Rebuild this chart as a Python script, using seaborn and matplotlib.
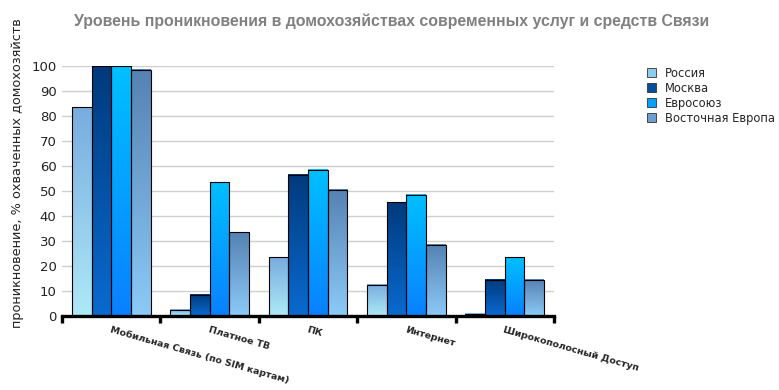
import numpy as np
import pandas as pd
import matplotlib
matplotlib.use("Agg")
import matplotlib.pyplot as plt
import seaborn as sns
from matplotlib.colors import LinearSegmentedColormap
from matplotlib.patches import Patch

categories = ["Мобильная Связь (по SIM картам)", "Платное ТВ", "ПК", "Интернет", "Широкополосный Доступ"]
series = ["Россия", "Москва", "Евросоюз", "Восточная Европа"]
russia = [83.5, 2.5, 23.5, 12.5, 1.0]
moscow = [100, 8.5, 56.5, 45.5, 14.5]
eu = [100, 53.5, 58.5, 48.5, 23.5]
east_eu = [98.5, 33.5, 50.5, 28.5, 14.5]
yticks = list(range(0, 101, 10))

values = [russia, moscow, eu, east_eu]
rows = []
for s, vals in zip(series, values):
    for c, v in zip(categories, vals):
        rows.append({"cat": c, "series": s, "val": v})
df = pd.DataFrame(rows)

# (bottom colour, top colour) for each series gradient
grads = [("#aee9f7", "#78acdf"),
         ("#0a6ad0", "#003a7c"),
         ("#0a80ff", "#00c0ff"),
         ("#8ccaf8", "#5582b2")]
legend_cols = ["#8ccdee", "#00509e", "#00a0ff", "#6e9fd0"]

sns.set_theme(style="white")
plt.rcParams["font.family"] = ["DejaVu Sans"]

fig = plt.figure(figsize=(7.79, 3.90), dpi=100)
ax = fig.add_axes([62 / 779, 74 / 390, 492 / 779, 250 / 390])

sns.barplot(data=df, x="cat", y="val", hue="series", order=categories,
            hue_order=series, palette=legend_cols, width=0.8, ax=ax,
            edgecolor="black", linewidth=0.8, legend=False, zorder=3)

grad = np.linspace(0, 1, 256).reshape(-1, 1)
for cont, (bot, top) in zip(ax.containers, grads):
    cmap = LinearSegmentedColormap.from_list("g", [bot, top])
    for bar in cont:
        x0, y0 = bar.get_x(), bar.get_y()
        w, h = bar.get_width(), bar.get_height()
        ax.imshow(grad, extent=[x0, x0 + w, y0, y0 + h], origin="lower",
                  cmap=cmap, aspect="auto", zorder=2.5, interpolation="bilinear")
        bar.set_facecolor("none")

ax.set_xlim(-0.5, len(categories) - 0.5)
ax.set_ylim(0, 100)
ax.set_yticks(yticks)
ax.set_yticklabels([str(t) for t in yticks], fontsize=9.5, color="#222222")
ax.yaxis.grid(True, color="#cfcfcf", linewidth=1, zorder=0)
ax.set_axisbelow(True)
for s in ["left", "right", "top"]:
    ax.spines[s].set_visible(False)
ax.spines["bottom"].set_linewidth(2.4)
ax.spines["bottom"].set_color("black")
ax.tick_params(axis="y", length=0, pad=4)

ax.set_xticks(range(len(categories)))
ax.set_xticklabels(categories, fontsize=6.8, fontweight="bold", rotation=-16,
                   ha="left", va="top", rotation_mode="anchor")
ax.set_xticks(np.arange(-0.5, len(categories), 1.0), minor=True)
ax.tick_params(axis="x", which="both", bottom=True)
ax.tick_params(axis="x", which="major", length=0, pad=7)
ax.tick_params(axis="x", which="minor", length=5, width=2.4, color="black", direction="out")
ax.set_xlabel("")
ax.set_ylabel("")

fig.text(18 / 779, 1 - 173 / 390, "проникновение, % охваченных домохозяйств",
         rotation=90, ha="center", va="center", fontsize=9.3, color="#222222")

fig.text(392 / 779, 1 - 21 / 390,
         "Уровень проникновения в домохозяйствах современных услуг и средств Связи",
         ha="center", va="center", fontsize=11.4, fontweight="bold",
         color="#808080", family="Liberation Sans")

handles = [Patch(facecolor=c, edgecolor="#333333", linewidth=0.6) for c in legend_cols]
fig.legend(handles, series, loc="upper left",
           bbox_to_anchor=(642 / 779, 1 - 62 / 390), frameon=False,
           fontsize=8.3, handlelength=0.8, handleheight=0.8, handletextpad=0.8,
           labelspacing=0.18, borderaxespad=0)

fig.savefig("out.png", dpi=100)
